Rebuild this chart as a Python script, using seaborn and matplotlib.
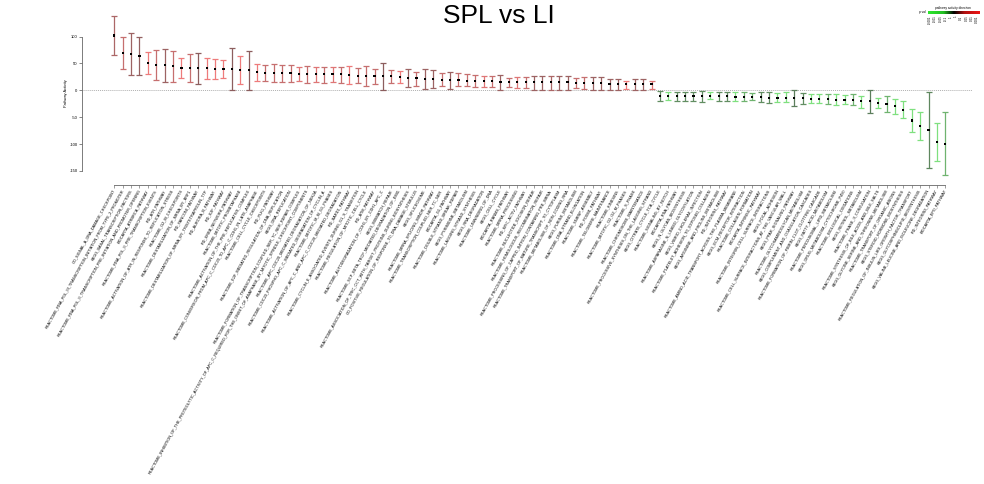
import numpy as np
import pandas as pd
import matplotlib
matplotlib.use("Agg")
import matplotlib.pyplot as plt
from matplotlib.colors import LinearSegmentedColormap, Normalize
import seaborn as sns

# ---------------- data ----------------
pathways = [
    "GO_SIGNAL_A_DNA_DAMAGE_CHECKPOINT",
    "REACTOME_RNA_POL_III_TRANSCRIPTION_INITIATION_FROM_TYPE_2_PROMOTER",
    "KEGG_BASAL_TRANSCRIPTION_FACTORS",
    "REACTOME_RNA_POL_II_TRANSCRIPTION_PRE_INITIATION_AND_PROMOTER_OPENING",
    "BIOCARTA_ATRBRCA_PATHWAY",
    "REACTOME_RNA_POL_II_PRE_TRANSCRIPTION_EVENTS",
    "PID_ATR_PATHWAY",
    "REACTOME_ACTIVATION_OF_ATR_IN_RESPONSE_TO_REPLICATION_STRESS",
    "REACTOME_G2_M_CHECKPOINTS",
    "REACTOME_DESTABILIZATION_OF_MRNA_BY_BRF1",
    "PID_FANCONI_PATHWAY",
    "REACTOME_DESTABILIZATION_OF_MRNA_BY_TRISTETRAPROLIN_TTP",
    "PID_AURORA_B_PATHWAY",
    "PID_E2F_PATHWAY",
    "PID_ERBB_NETWORK_PATHWAY",
    "REACTOME_MITOTIC_PROMETAPHASE",
    "REACTOME_ACTIVATION_OF_THE_PRE_REPLICATIVE_COMPLEX",
    "REACTOME_CONVERSION_FROM_APC_C_CDC20_TO_APC_C_CDH1_IN_LATE_ANAPHASE",
    "REACTOME_CELL_CYCLE_CHECKPOINTS",
    "PID_PLK1_PATHWAY",
    "REACTOME_E2F_MEDIATED_REGULATION_OF_DNA_REPLICATION",
    "KEGG_DNA_REPLICATION",
    "REACTOME_FORMATION_OF_TRANSCRIPTION_COUPLED_NER_TC_NER_REPAIR_COMPLEX",
    "REACTOME_INHIBITION_OF_THE_PROTEOLYTIC_ACTIVITY_OF_APC_C_REQUIRED_FOR_THE_ONSET_OF_ANAPHASE_BY_MITOTIC_SPINDLE_CHECKPOINT_COMPONENTS",
    "REACTOME_APC_CDC20_MEDIATED_DEGRADATION_OF_NEK2A",
    "REACTOME_CDC20_PHOSPHO_APC_C_MEDIATED_DEGRADATION_OF_CYCLIN_A",
    "REACTOME_MITOTIC_M_M_G1_PHASES",
    "REACTOME_ACTIVATION_OF_APC_C_AND_APC_C_CDC20_MEDIATED_DEGRADATION",
    "PID_BARD1_PATHWAY",
    "REACTOME_CYCLIN_E_ASSOCIATED_EVENTS_DURING_G1_S_TRANSITION",
    "REACTOME_REGULATION_OF_MITOTIC_CELL_CYCLE",
    "PID_ATM_PATHWAY",
    "REACTOME_AUTODEGRADATION_OF_CDH1_BY_CDH1_APC_C",
    "KEGG_MISMATCH_REPAIR",
    "REACTOME_SCF_BETA_TRCP_MEDIATED_DEGRADATION_OF_EMI1",
    "REACTOME_ASSOCIATION_OF_TRIC_CCT_WITH_TARGET_PROTEINS_DURING_BIOSYNTHESIS",
    "GO_POSITIVE_REGULATION_OF_RESPONSE_TO_DNA_DAMAGE_STIMULUS",
    "KEGG_SPLICEOSOME",
    "REACTOME_MRNA_SPLICING_MINOR_PATHWAY",
    "REACTOME_TRANSCRIPTION_COUPLED_NER_TC_NER",
    "BIOCARTA_G1_PATHWAY",
    "REACTOME_DOUBLE_STRAND_BREAK_REPAIR",
    "KEGG_PYRIMIDINE_METABOLISM",
    "REACTOME_LAGGING_STRAND_SYNTHESIS",
    "KEGG_RNA_DEGRADATION",
    "REACTOME_UNWINDING_OF_DNA",
    "KEGG_CELL_CYCLE",
    "BIOCARTA_RANMS_PATHWAY",
    "REACTOME_MRNA_PROCESSING",
    "PID_MYC_ACTIV_PATHWAY",
    "REACTOME_NUCLEOTIDE_EXCISION_REPAIR",
    "REACTOME_HOMOLOGOUS_RECOMBINATION_REPAIR",
    "REACTOME_PROCESSING_OF_CAPPED_INTRON_CONTAINING_PRE_MRNA",
    "REACTOME_TRANSPORT_OF_MATURE_TRANSCRIPT_TO_CYTOPLASM",
    "REACTOME_METABOLISM_OF_NON_CODING_RNA",
    "KEGG_PURINE_METABOLISM",
    "REACTOME_DNA_STRAND_ELONGATION",
    "REACTOME_SNRNP_ASSEMBLY",
    "PID_FOXM1_PATHWAY",
    "REACTOME_TELOMERE_MAINTENANCE",
    "REACTOME_KINESINS",
    "REACTOME_MITOTIC_G2_G2_M_PHASES",
    "REACTOME_S_PHASE",
    "REACTOME_CHROMOSOME_MAINTENANCE",
    "REACTOME_PROCESSIVE_SYNTHESIS_ON_THE_LAGGING_STRAND",
    "KEGG_CITRATE_CYCLE_TCA_CYCLE",
    "REACTOME_SIGNALING_BY_NOTCH",
    "BIOCARTA_RNA_PATHWAY",
    "KEGG_N_GLYCAN_BIOSYNTHESIS",
    "REACTOME_ASPARAGINE_N_LINKED_GLYCOSYLATION",
    "KEGG_VIBRIO_CHOLERAE_INFECTION",
    "REACTOME_PLATELET_ADHESION_TO_EXPOSED_COLLAGEN",
    "KEGG_ARGININE_AND_PROLINE_METABOLISM",
    "PID_INTEGRIN1_PATHWAY",
    "REACTOME_AMINO_ACID_TRANSPORT_ACROSS_THE_PLASMA_MEMBRANE",
    "KEGG_ECM_RECEPTOR_INTERACTION",
    "REACTOME_COLLAGEN_FORMATION",
    "BIOCARTA_INTRINSIC_PATHWAY",
    "REACTOME_INTEGRIN_CELL_SURFACE_INTERACTIONS",
    "KEGG_FOCAL_ADHESION",
    "REACTOME_CELL_SURFACE_INTERACTIONS_AT_THE_VASCULAR_WALL",
    "KEGG_PPAR_SIGNALING_PATHWAY",
    "REACTOME_GLYCOSAMINOGLYCAN_METABOLISM",
    "KEGG_COMPLEMENT_AND_COAGULATION_CASCADES",
    "REACTOME_FORMATION_OF_FIBRIN_CLOT_CLOTTING_CASCADE",
    "KEGG_FATTY_ACID_METABOLISM",
    "REACTOME_PEROXISOMAL_LIPID_METABOLISM",
    "KEGG_DRUG_METABOLISM_CYTOCHROME_P450",
    "REACTOME_BIOLOGICAL_OXIDATIONS",
    "KEGG_RETINOL_METABOLISM",
    "REACTOME_PHASE_II_CONJUGATION",
    "REACTOME_SYNTHESIS_OF_BILE_ACIDS_AND_BILE_SALTS",
    "KEGG_GLYCINE_SERINE_AND_THREONINE_METABOLISM",
    "REACTOME_TRANSPORT_OF_ORGANIC_ANIONS",
    "KEGG_STEROID_HORMONE_BIOSYNTHESIS",
    "REACTOME_REGULATION_OF_INSULIN_LIKE_GROWTH_FACTOR_TRANSPORT",
    "KEGG_GLYCOSPHINGOLIPID_BIOSYNTHESIS",
    "KEGG_VALINE_LEUCINE_AND_ISOLEUCINE_DEGRADATION",
    "PID_INTEGRIN3_PATHWAY",
    "BIOCARTA_EPO_PATHWAY",
]

activity = [
    102, 69, 68, 64.6, 51, 47.8, 46.6, 44.7, 41.6, 41.6,
    41.6, 41.6, 40.4, 40.4, 39.8, 37.9, 37.3, 33.5, 32.3, 32.3,
    32.3, 32.3, 31, 30.4, 29.8, 29.8, 29.8, 29.8, 28.6, 27.3,
    27.3, 27.3, 26.7, 26, 24.8, 23, 22.4, 21.7, 21, 19.9,
    19.3, 19.3, 18, 16.8, 16.8, 16.8, 15.5, 15.5, 15.5, 15.5,
    15.5, 15.5, 15.5, 15.5, 15.5, 13.7, 13.7, 13.7, 13.7, 12.4,
    12.4, 11.2, 12.4, 12.4, 11.2,
    -11.2, -11.2, -11.2, -11.2, -11.2, -11.2, -9.9, -11.2, -11.2, -11.8,
    -11.8, -12.4, -13.0, -13.7, -13.7, -13.7, -14.3, -14.9, -15.5, -16.1,
    -16.1, -17.4, -17.4, -17.4, -20.5, -20.5, -23.6, -24.8, -29.8, -36,
    -55.9, -65.8, -73.3, -96.3, -99.4,
]

ci_low = [
    66.5, 39.8, 28.6, 28.6, 29.8, 20, 15.5, 15, 22.4, 15.5,
    11.8, 22, 21, 23, 0, 12.4, 0, 18, 16.8, 15,
    15, 15.5, 17.4, 13.7, 15, 13.7, 15, 13.7, 11.8, 13.7,
    8.7, 12.4, 0, 14.3, 13.7, 6.2, 8.7, 3.1, 3.7, 7.5,
    2.5, 7.5, 7.5, 6.2, 6.2, 6.2, 0, 6.2, 4.3, 4.3,
    1.2, 1.2, 1.2, 0.6, 0, 4.3, 2.5, 1.2, 0, 1.2,
    1.2, 2.5, 1.2, 0.6, 2.5,
    -20.5, -18.6, -19.3, -19.3, -19.9, -21.1, -16.1, -19.9, -19.9, -19.3,
    -20.5, -18.6, -22.4, -23.6, -22.4, -22.4, -28.6, -26.1, -23.6, -24.2,
    -24.8, -26.7, -26.1, -28, -32.9, -42.2, -33.5, -41, -43.5, -51.6,
    -78.3, -92, -144.7, -131, -157,
]

ci_high = [
    138, 99.4, 107, 99.4, 72, 75, 77, 74, 60, 67.7,
    69.6, 60, 58.4, 56.5, 78.3, 63.4, 73, 48.4, 47.2, 49.7,
    47.8, 47.8, 43.5, 46, 43.5, 43.5, 43.5, 42.9, 44.7, 41,
    44.7, 40.4, 51, 37.9, 36.6, 39.8, 34.8, 39.8, 38.5, 32.9,
    34.8, 31.7, 29.8, 28, 27.3, 27.3, 29.2, 23, 24.2, 24.2,
    27.3, 26, 26.5, 26.5, 27.3, 22.4, 24.2, 25.5, 24.2, 21.7,
    21.7, 18, 21.7, 21.7, 17.4,
    -1.2, -3.7, -2.5, -2.5, -2.5, -1.2, -3.7, -2.5, -2.5, -3.7,
    -2.5, -5, -2.5, -2.5, -5, -3.7, 0, -5, -6.8, -7.5,
    -6.8, -7.5, -8.7, -6.8, -9.9, 0, -14.9, -9.9, -16.1, -19.9,
    -34.8, -41, -3.7, -60.9, -40.4,
]

# direction / significance score used for the error-bar colour (-1 green ... 0 dark ... 1 red)
direction_score = [
    0.6, 0.75, 0.5, 0.45, 1.0, 0.75, 0.5, 0.75, 1.0, 0.75,
    0.4, 1.0, 1.0, 1.0, 0.4, 1.0, 0.4, 1.0, 0.75, 0.75,
    0.75, 0.75, 0.9, 0.75, 0.9, 0.75, 0.9, 0.75, 1.0, 0.75,
    0.75, 0.75, 0.4, 0.75, 1.0, 0.5, 0.75, 0.5, 0.5, 0.75,
    0.5, 0.75, 0.75, 0.75, 0.9, 0.75, 0.5, 0.75, 0.9, 0.75,
    0.5, 0.5, 0.6, 0.5, 0.5, 0.75, 0.75, 0.5, 0.5, 0.5,
    0.5, 1.0, 0.5, 0.5, 0.9,
    -0.45, -1.0, -0.45, -0.45, -0.45, -0.45, -1.0, -0.45, -0.45, -1.0,
    -0.7, -0.7, -0.45, -0.45, -1.0, -1.0, -0.35, -0.45, -1.0, -1.0,
    -0.7, -1.0, -1.0, -0.7, -1.0, -0.35, -1.0, -0.7, -1.0, -1.0,
    -1.0, -1.0, -0.4, -1.0, -0.7,
]

y_ticks = [-150, -100, -50, 0, 50, 100]
legend_ticks = ["-0.001", "-0.01", "-0.05", "-0.1", "-1", "1", "0.1", "0.05", "0.01", "0.001"]

df = pd.DataFrame({
    "pathway": pathways,
    "activity": activity,
    "low": ci_low,
    "high": ci_high,
    "score": direction_score,
})
df["pos"] = np.arange(len(df))

# ---------------- figure ----------------
sns.set_theme(style="ticks")
plt.rcParams["font.family"] = ["Liberation Sans", "DejaVu Sans"]
plt.rcParams["text.color"] = "black"
plt.rcParams["axes.labelcolor"] = "black"
plt.rcParams["xtick.color"] = "#555555"
plt.rcParams["ytick.color"] = "#555555"
plt.rcParams["xtick.labelcolor"] = "black"
plt.rcParams["ytick.labelcolor"] = "black"

W, H = 984, 484
fig = plt.figure(figsize=(W / 100, H / 100), dpi=100)
ax_l, ax_r, ax_t, ax_b = 82, 972, 15.1, 171.0
ax = fig.add_axes([ax_l / W, 1 - ax_b / H, (ax_r - ax_l) / W, (ax_b - ax_t) / H])

# spines first (set_position resets tick label styling)
sns.despine(ax=ax)
ax.spines["bottom"].set_position(("outward", 10))
ax.spines["left"].set_linewidth(0.6)
ax.spines["left"].set_color("#666666")
ax.spines["bottom"].set_linewidth(0.6)
ax.spines["bottom"].set_color("#666666")

bar_cmap = LinearSegmentedColormap.from_list(
    "dir", [(0.0, "#7fe07f"), (0.5, "#4a4a4a"), (1.0, "#ee7b7b")])
norm = Normalize(-1, 1)

ax.axhline(0, color="#b0b0b0", lw=0.7, ls=(0, (1, 1)), zorder=1)

for _, r in df.iterrows():
    ax.errorbar(r["pos"], r["activity"],
                yerr=[[r["activity"] - r["low"]], [r["high"] - r["activity"]]],
                fmt="none", ecolor=bar_cmap(norm(r["score"])),
                elinewidth=0.9, capsize=1.9, capthick=0.9, clip_on=False, zorder=2)

sns.scatterplot(data=df, x="pos", y="activity", ax=ax, marker="s", s=2.5,
                color="black", edgecolor="none", legend=False, zorder=3, clip_on=False)

ax.set_xlim(-(114.3 - ax_l) / 8.394, (ax_r - 114.3) / 8.394)
ax.set_ylim(-150, 140)
ax.spines["left"].set_bounds(-150, 100)
ax.spines["bottom"].set_bounds(0, len(df) - 1)

ax.set_xticks(df["pos"].tolist())
ax.set_xticklabels(df["pathway"].tolist())
plt.setp(ax.get_xticklabels(), rotation=61, ha="right", va="center",
         rotation_mode="anchor", fontsize=2.8)
ax.set_yticks(y_ticks)
ax.set_yticklabels([str(t) for t in y_ticks], fontsize=3)
ax.tick_params(axis="x", length=2, width=0.4, pad=1.5)
ax.tick_params(axis="y", length=2, width=0.5, pad=1.2)

ax.set_xlabel("")
ax.set_ylabel("Pathway Activity", fontsize=2.8)
ax.yaxis.set_label_coords((68.5 - ax_l) / (ax_r - ax_l), 0.5)

fig.text(499 / W, 1 - 16 / H, "SPL vs LI", fontsize=19, ha="center", va="center", color="black")

# ---------------- colour legend ----------------
leg_cmap = LinearSegmentedColormap.from_list(
    "leg", [(0.0, "#2ee82e"), (0.3, "#22c022"), (0.5, "#000000"), (0.7, "#b01010"), (1.0, "#ee1515")])
cax = fig.add_axes([928 / W, 1 - 14.3 / H, 51 / W, 3.6 / H])
cax.imshow(np.linspace(0, 1, 256)[None, :], aspect="auto", cmap=leg_cmap)
cax.set_axis_off()
fig.text(953 / W, 1 - 7.5 / H, "pathway activity direction", fontsize=2.3, ha="center", va="center")
fig.text(926 / W, 1 - 12.5 / H, "p val", fontsize=2.3, ha="right", va="center")
for i, t in enumerate(legend_ticks):
    xf = (930 + i * 47 / (len(legend_ticks) - 1)) / W
    fig.text(xf, 1 - 15.5 / H, t, fontsize=2.2, rotation=90, ha="center", va="top")

fig.savefig("out.png", dpi=100)
